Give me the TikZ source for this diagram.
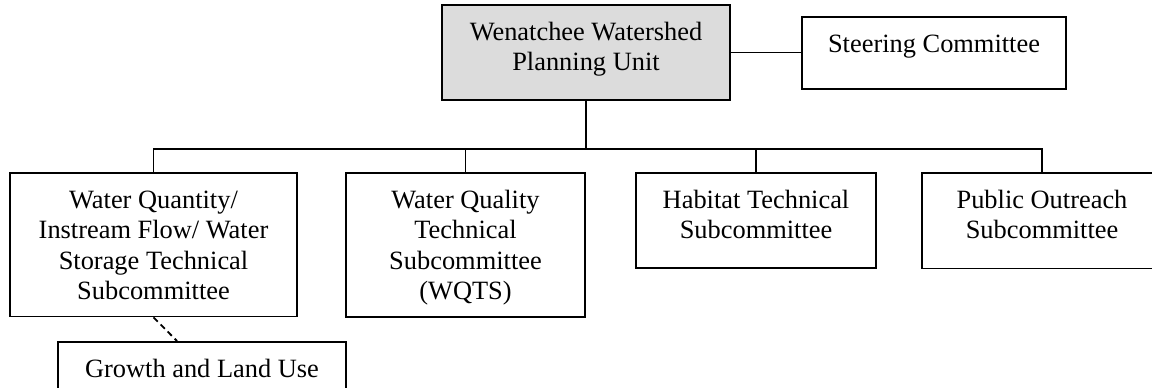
\documentclass[tikz,border=0pt]{standalone}
\usepackage{fontspec}
\setmainfont{Liberation Serif}
\definecolor{unitgray}{RGB}{220,220,220}
\newcommand{\boxtext}[3]{\parbox[c][#2][t]{#1}{\centering\rule{0pt}{17.8pt}#3}}
\tikzset{
  orgbox/.style={draw, line width=0.9pt, inner sep=0pt, fill=white,
    font=\fontsize{13.2pt}{15.15pt}\selectfont},
  conn/.style={line width=0.9pt},
  dashconn/.style={line width=0.9pt, dash pattern=on 3pt off 2pt}
}
\begin{document}
\begin{tikzpicture}[x=0.5pt, y=-0.5pt]
\useasboundingbox (0,0) rectangle (1152,387);
\clip (0,0) rectangle (1152,387);
\node[orgbox, fill=unitgray] (unit) at (586,52.5)
  {\boxtext{144pt}{47.5pt}{Wenatchee Watershed\\Planning Unit}};
\node[orgbox] (steer) at (934,53)
  {\boxtext{132pt}{36pt}{Steering Committee}};
\node[orgbox] (b1) at (153.5,244.75)
  {\boxtext{143.5pt}{71.75pt}{Water Quantity/\\Instream Flow/ Water\\Storage Technical\\Subcommittee}};
\node[orgbox] (b2) at (465.5,245)
  {\boxtext{119.5pt}{72pt}{Water Quality\\Technical\\Subcommittee\\(WQTS)}};
\node[orgbox] (b3) at (756,220.5)
  {\boxtext{120pt}{47.5pt}{Habitat Technical\\Subcommittee}};
\node[orgbox] (b4) at (1042,220.75)
  {\boxtext{120pt}{47.75pt}{Public Outreach\\Subcommittee}};
\node[orgbox] (g) at (202,378)
  {\boxtext{144pt}{36pt}{Growth and Land Use}};
\coordinate (bus) at (586,149);
\draw[conn] (unit.south) -- (bus);
\draw[conn] (b1.north) |- (bus) -| (b4.north);
\draw[conn] (b2.north) -- (b2.north |- bus);
\draw[conn] (b3.north) -- (b3.north |- bus);
\draw[conn] (unit.east) -- (unit.east -| steer.west);
\draw[dashconn] (b1.south) -- ([xshift=60pt]g.north west);
\end{tikzpicture}
\end{document}
